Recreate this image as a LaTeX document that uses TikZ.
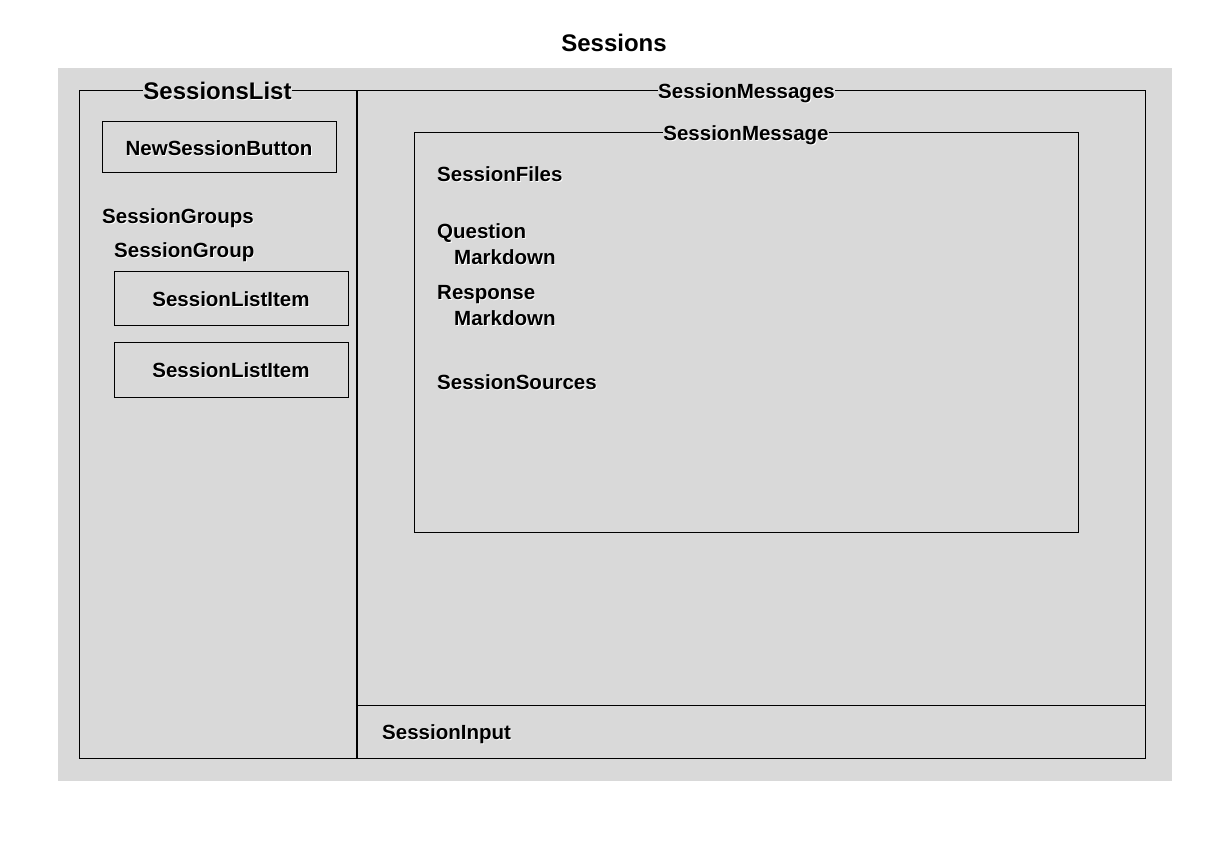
\documentclass[tikz,border=0pt]{standalone}
\usepackage{fontspec}
\setmainfont{Liberation Sans}
\definecolor{panel}{HTML}{D9D9D9}
% text with a light shadow
\newcommand\halo[1]{\makebox[0pt][l]{\hspace{0.9pt}\raisebox{-0.9pt}{\color{white}#1}}#1}
\begin{document}
\begin{tikzpicture}[x=1pt, y=-1pt,
    lbl/.style={anchor=base west, inner sep=0pt, font=\fontsize{20.5}{24}\selectfont\bfseries},
    midlbl/.style={anchor=base, inner sep=0pt, font=\fontsize{20.5}{24}\selectfont\bfseries},
    boxtitle/.style={anchor=base, fill=panel, inner xsep=0.5pt, inner ysep=1pt, font=\fontsize{20.5}{24}\selectfont\bfseries},
    frame/.style={draw=black, line width=1pt}]
        \useasboundingbox (0,0) rectangle (1229,850);
        \fill [white] (0,0) rectangle (1229,850);
        \fill [panel] (58,68) rectangle (1172,781);
        \node [anchor=base, font=\fontsize{24}{28}\selectfont\bfseries] (sessions) at (614,52) {Sessions};
        % left column
        \draw [frame] (357,91) -- (79,91) -- (79,758) -- (357,758);
        \draw [line width=2pt] (357,90.5) -- (357,758.5);
        \node [boxtitle, font=\fontsize{24}{28}\selectfont\bfseries] (list) at (217.5,100) {\halo{SessionsList}};
        \draw [frame] (102,122) rectangle (336,173);
        \node [midlbl] (newbtn) at (219,155.5) {\halo{NewSessionButton}};
        \node [lbl] (groups) at (102,223.5) {\halo{SessionGroups}};
        \node [lbl] (group) at (114,257.5) {\halo{SessionGroup}};
        \draw [frame] (114,272) rectangle (348,326);
        \node [midlbl] (item1) at (231,306.5) {\halo{SessionListItem}};
        \draw [frame] (114,343) rectangle (348,397);
        \node [midlbl] (item2) at (231,377.5) {\halo{SessionListItem}};
        % right column
        \draw [frame] (357,91) -- (1145,91) -- (1145,758) -- (357,758);
        \draw [frame] (357,705) -- (1145,705);
        \node [boxtitle] (messages) at (746.5,98.5) {\halo{SessionMessages}};
        \draw [frame] (414,133) rectangle (1078,532);
        \node [boxtitle] (message) at (746,140.5) {\halo{SessionMessage}};
        \node [lbl] (files) at (437,181.5) {\halo{SessionFiles}};
        \node [lbl] (question) at (437,238.5) {\halo{Question}};
        \node [lbl] (qmd) at (454,264.5) {\halo{Markdown}};
        \node [lbl] (response) at (437,299.5) {\halo{Response}};
        \node [lbl] (rmd) at (454,325.5) {\halo{Markdown}};
        \node [lbl] (sources) at (437,389.5) {\halo{SessionSources}};
        \node [lbl] (input) at (382,739.5) {\halo{SessionInput}};
    \end{tikzpicture}
\end{document}
